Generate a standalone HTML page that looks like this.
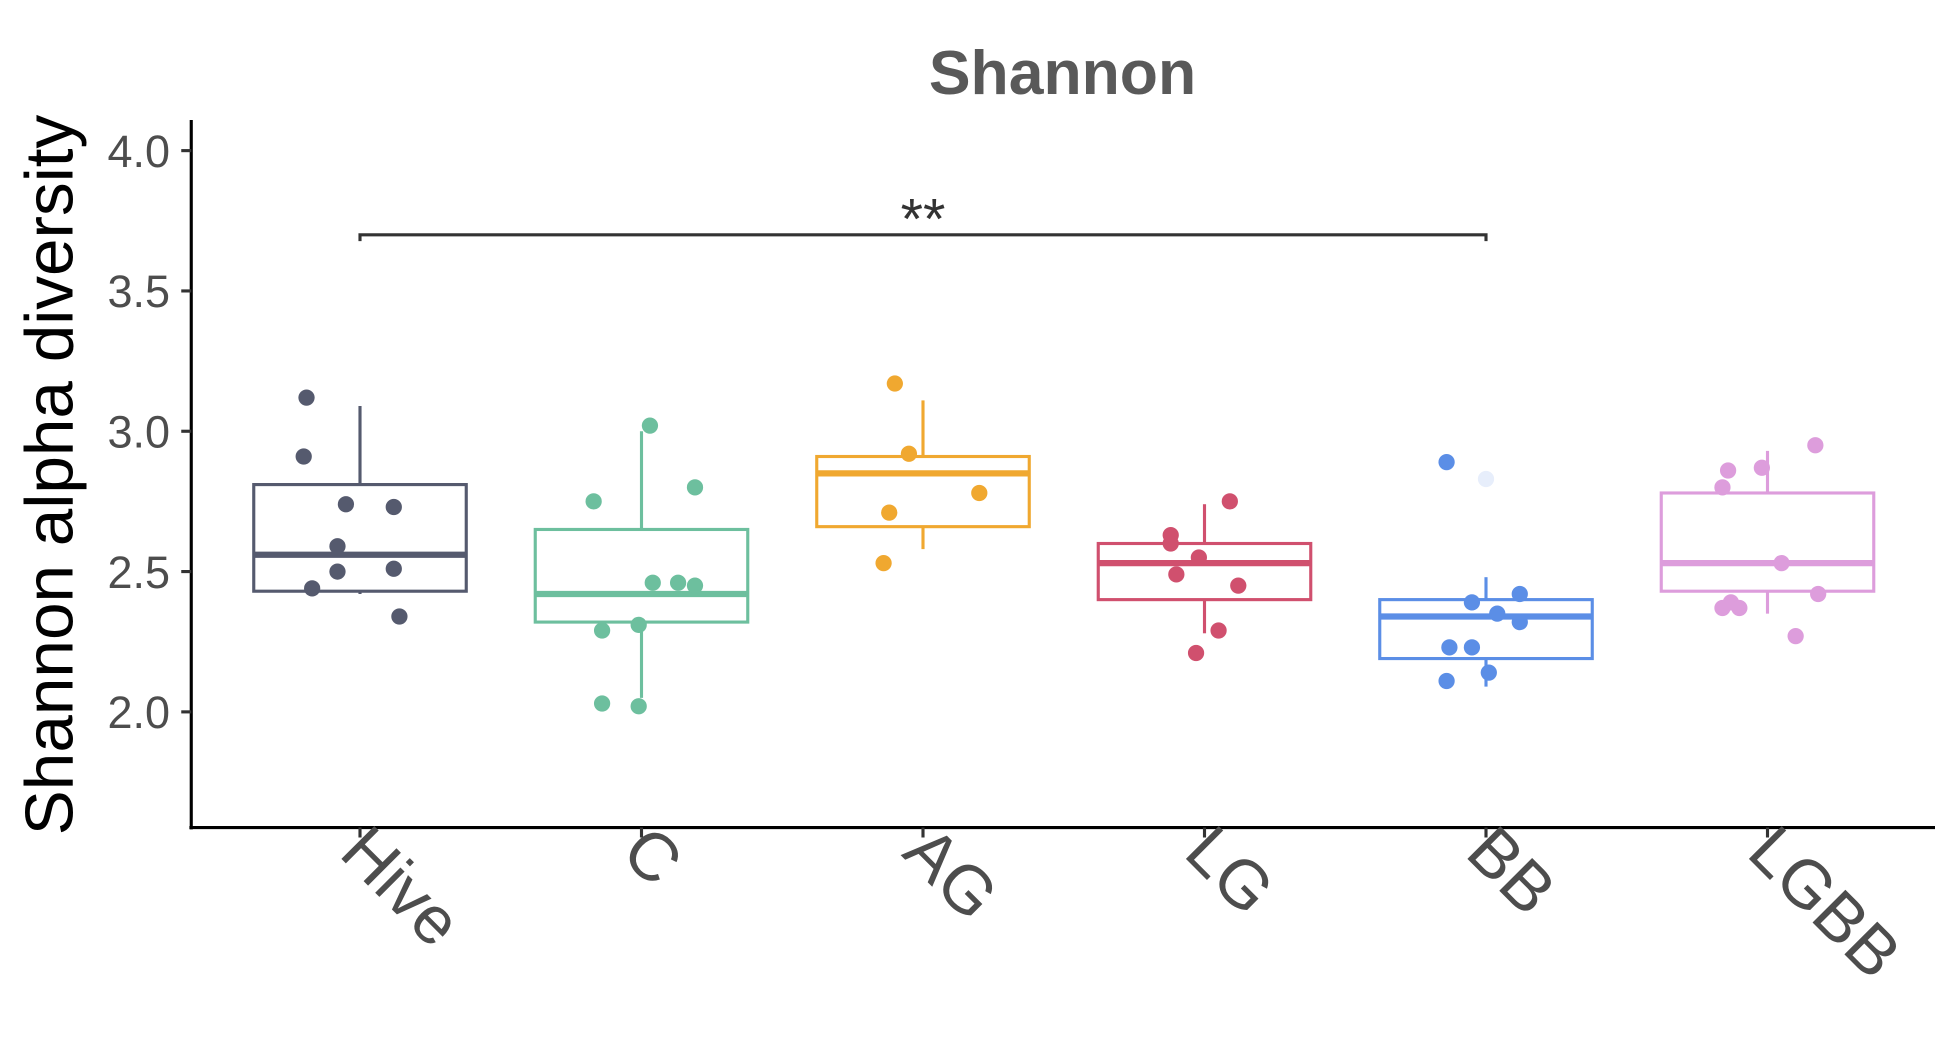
<!DOCTYPE html>
<html><head><meta charset="utf-8"><style>
html,body{margin:0;padding:0;background:#fff}
svg{display:block}
text{font-family:"Liberation Sans",Arial,sans-serif}
</style></head><body>
<svg id="chart" width="1950" height="1050" viewBox="0 0 1560 840" xmlns="http://www.w3.org/2000/svg">
<text x="850" y="75" text-anchor="middle" font-size="50" font-weight="bold" fill="#595959">Shannon</text>
<text transform="translate(58,380) rotate(-90)" text-anchor="middle" font-size="54" fill="#000">Shannon alpha diversity</text>
<g id="plot"></g>
</svg>
<script>
const categories = ["Hive","C","AG","LG","BB","LGBB"];
const colors = ["#555a6e","#6dbf9e","#f0a830","#d0506e","#5b8ee6","#dd9ddc"];
const q1 = [2.43,2.32,2.66,2.40,2.19,2.43];
const medians = [2.56,2.42,2.85,2.53,2.34,2.53];
const q3 = [2.81,2.65,2.91,2.60,2.40,2.78];
const whiskLo = [2.42,2.05,2.58,2.28,2.09,2.35];
const whiskHi = [3.09,3.00,3.11,2.74,2.48,2.93];
const points = [
 [3.12,2.91,2.74,2.73,2.59,2.50,2.51,2.44,2.34],
 [3.02,2.75,2.80,2.46,2.46,2.45,2.29,2.31,2.03,2.02],
 [3.17,2.92,2.78,2.71,2.53],
 [2.75,2.63,2.60,2.55,2.49,2.45,2.29,2.21],
 [2.89,2.83,2.42,2.39,2.35,2.32,2.23,2.23,2.14,2.11],
 [2.95,2.87,2.86,2.80,2.53,2.42,2.39,2.37,2.37,2.27]
];
const jitter = [
 [-0.19,-0.2,-0.05,0.12,-0.08,-0.08,0.12,-0.17,0.14],
 [0.03,-0.17,0.19,0.04,0.13,0.19,-0.14,-0.01,-0.14,-0.01],
 [-0.1,-0.05,0.2,-0.12,-0.14],
 [0.09,-0.12,-0.12,-0.02,-0.1,0.12,0.05,-0.03],
 [-0.14,0,0.12,-0.05,0.04,0.12,-0.13,-0.05,0.01,-0.14],
 [0.17,-0.02,-0.14,-0.16,0.05,0.18,-0.13,-0.16,-0.1,0.1]
];
const yTicks = [2.0,2.5,3.0,3.5,4.0];
const sigPair = [0,4];
const sigLevel = 3.7;
const sigLabel = "**";

const NS="http://www.w3.org/2000/svg";
const g=document.getElementById('plot');
const X0=153, XR=1548, YB=662, YT=96;
const xPos=i=>288+i*225.2;
const yPos=v=>345-(v-3)*224.5;
const boxW=170;
function mk(tag,attrs,parent){const e=document.createElementNS(NS,tag);for(const k in attrs)e.setAttribute(k,attrs[k]);(parent||g).appendChild(e);return e;}

const ya=mk('line',{x1:X0,y1:YT,x2:X0,y2:YB+1.5,stroke:'#000','stroke-width':2.5});


const xa=mk('line',{x1:X0-1.5,y1:YB,x2:XR,y2:YB,stroke:'#000','stroke-width':2.5});



yTicks.forEach(t=>{
 const y=yPos(t);
 const tk=mk('line',{x1:X0-8,y1:y,x2:X0,y2:y,stroke:'#333','stroke-width':2.5});
 
 
 const tl=mk('text',{x:X0-17,y:y+13,'text-anchor':'end','font-size':36,fill:'#4d4d4d'});
 tl.textContent=t.toFixed(1);
 
 
});

categories.forEach((c,i)=>{
 const x=xPos(i), col=colors[i];
 const tk=mk('line',{x1:x,y1:YB,x2:x,y2:YB+8,stroke:'#333','stroke-width':2.5});
 
 
 const lb=mk('text',{x:0,y:0,'font-size':54,fill:'#4d4d4d',transform:`translate(${x-18},${YB+22}) rotate(45)`});
 lb.textContent=c;
 
 

 const grp=mk('g',{});
 
 
 mk('line',{x1:x,y1:yPos(whiskHi[i]),x2:x,y2:yPos(q3[i]),stroke:col,'stroke-width':2.5},grp);
 mk('line',{x1:x,y1:yPos(q1[i]),x2:x,y2:yPos(whiskLo[i]),stroke:col,'stroke-width':2.5},grp);
 mk('rect',{x:x-boxW/2,y:yPos(q3[i]),width:boxW,height:yPos(q1[i])-yPos(q3[i]),fill:'none',stroke:col,'stroke-width':2.5},grp);
 const md=mk('line',{x1:x-boxW/2,y1:yPos(medians[i]),x2:x+boxW/2,y2:yPos(medians[i]),stroke:col,'stroke-width':5},grp);
 
 
 points[i].forEach((v,j)=>{
  const p=mk('circle',{cx:x+jitter[i][j]*225.2,cy:yPos(v),r:6.5,fill:col,opacity:(i===4&&j===1)?0.15:1},grp);
  
  
 });
});

const sx1=xPos(sigPair[0]), sx2=xPos(sigPair[1]), sy=yPos(sigLevel);
const br=mk('path',{d:`M${sx1},${sy+5}V${sy}H${sx2}V${sy+5}`,fill:'none',stroke:'#333','stroke-width':2.5});


const st=mk('text',{x:(sx1+sx2)/2,y:sy+3,'text-anchor':'middle','font-size':46,fill:'#333'});
st.textContent=sigLabel;


</script>
</body></html>
